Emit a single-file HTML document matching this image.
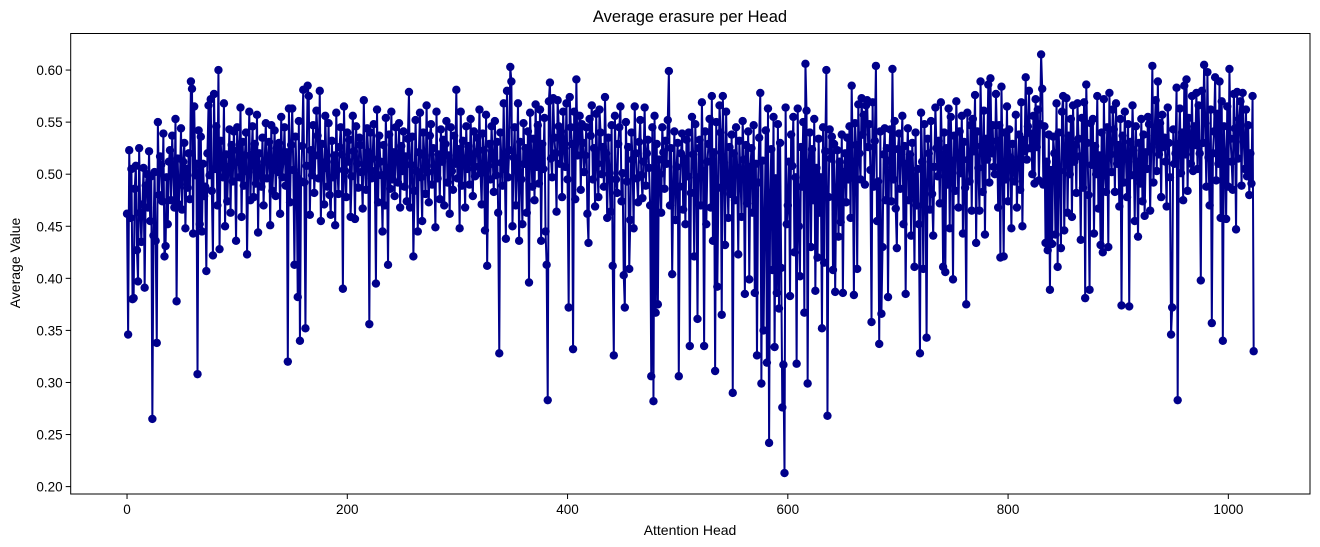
<!DOCTYPE html>
<html><head><meta charset="utf-8"><style>
body{margin:0;background:#fff;}
svg{display:block;font-family:"Liberation Sans","DejaVu Sans",sans-serif;}
</style></head><body>
<svg id="chart" width="1320" height="547" viewBox="0 0 1320 547" xmlns="http://www.w3.org/2000/svg">
<rect x="0" y="0" width="1320" height="547" fill="#fff"/>
<text x="690" y="22" text-anchor="middle" font-size="16.5">Average erasure per Head</text>
<text x="690" y="535" text-anchor="middle" font-size="14">Attention Head</text>
<text x="20" y="263" text-anchor="middle" font-size="14" transform="rotate(-90 20 263)">Average Value</text>
<g id="plot"></g>
<g id="axes"></g>
</svg>
<script>
const xTicks = [0,200,400,600,800,1000];
const yTicks = [0.20,0.25,0.30,0.35,0.40,0.45,0.50,0.55,0.60];
const yTickLabels = ["0.20","0.25","0.30","0.35","0.40","0.45","0.50","0.55","0.60"];
const values = [
.462,.346,.523,.458,.505,.380,.381,.486,.508,.427,.397,.525,.463,.435,.471,.506,.391,.489,.500,.468,.522,.455,.498,.265,.441,.502,.436,.338,.550,.480,.517,.509,
.474,.539,.421,.431,.497,.452,.512,.523,.475,.537,.503,.468,.553,.378,.515,.471,.490,.544,.466,.512,.530,.448,.505,.487,.520,.476,.589,.582,.443,.565,.499,.510,
.308,.542,.452,.536,.445,.510,.479,.488,.407,.520,.566,.499,.572,.484,.422,.577,.505,.546,.470,.600,.428,.532,.511,.497,.568,.450,.519,.474,.507,.543,.463,.528,
.493,.541,.511,.436,.545,.523,.497,.564,.459,.531,.489,.518,.540,.423,.502,.560,.475,.514,.546,.478,.529,.491,.557,.444,.520,.503,.488,.535,.470,.512,.549,.496,
.515,.531,.451,.547,.484,.510,.542,.479,.525,.502,.530,.462,.555,.497,.513,.545,.489,.521,.320,.563,.473,.528,.563,.504,.413,.536,.497,.382,.551,.340,.493,.527,
.581,.492,.352,.508,.585,.575,.461,.523,.499,.547,.482,.518,.561,.537,.496,.580,.455,.529,.505,.471,.556,.512,.488,.549,.480,.461,.532,.497,.518,.451,.559,.504,
.481,.526,.545,.519,.390,.565,.503,.478,.540,.512,.533,.459,.498,.556,.522,.457,.546,.510,.487,.535,.528,.502,.467,.571,.505,.485,.544,.521,.356,.540,.496,.515,
.548,.503,.395,.562,.473,.537,.512,.499,.445,.528,.470,.554,.506,.413,.538,.486,.560,.495,.521,.479,.545,.515,.492,.549,.468,.527,.503,.541,.488,.517,.474,.534,
.579,.468,.509,.536,.421,.484,.552,.503,.445,.521,.559,.497,.455,.540,.518,.481,.566,.502,.473,.537,.548,.490,.525,.508,.449,.560,.496,.519,.476,.543,.512,.533,
.470,.529,.551,.492,.518,.462,.545,.503,.485,.537,.510,.581,.496,.524,.448,.560,.489,.532,.515,.468,.546,.505,.527,.490,.553,.512,.479,.541,.498,.521,.535,.507,
.562,.501,.471,.539,.523,.446,.557,.412,.508,.529,.495,.546,.517,.483,.551,.499,.531,.463,.328,.540,.511,.489,.568,.505,.438,.580,.497,.523,.603,.589,.450,.516,
.545,.470,.503,.568,.436,.531,.495,.452,.549,.510,.525,.463,.541,.396,.559,.520,.488,.534,.475,.567,.507,.547,.491,.562,.436,.529,.505,.554,.445,.413,.283,.570,
.588,.515,.497,.573,.535,.520,.464,.571,.546,.510,.541,.478,.560,.525,.507,.568,.495,.372,.574,.545,.529,.332,.560,.476,.591,.518,.537,.556,.485,.548,.530,.502,
.518,.545,.462,.434,.553,.537,.566,.495,.525,.469,.558,.510,.478,.562,.540,.500,.526,.488,.574,.520,.458,.535,.501,.464,.547,.412,.326,.556,.495,.482,.529,.545,
.565,.474,.501,.403,.372,.550,.493,.526,.409,.456,.540,.514,.448,.565,.520,.496,.473,.531,.552,.499,.477,.512,.564,.489,.520,.533,.506,.470,.306,.545,.282,.556,
.367,.529,.375,.514,.500,.463,.545,.521,.486,.532,.510,.552,.599,.470,.525,.404,.490,.541,.456,.507,.530,.306,.488,.520,.539,.466,.515,.452,.533,.498,.540,.335,
.482,.555,.519,.421,.548,.497,.361,.525,.533,.470,.569,.503,.335,.541,.452,.512,.529,.553,.468,.575,.436,.521,.311,.550,.392,.487,.566,.540,.365,.575,.511,.432,
.560,.495,.458,.526,.481,.538,.290,.520,.475,.545,.506,.423,.532,.498,.459,.551,.514,.385,.528,.472,.541,.399,.507,.525,.463,.547,.386,.510,.326,.492,.535,.578,
.299,.513,.350,.460,.542,.319,.563,.242,.482,.524,.408,.555,.334,.496,.386,.548,.371,.530,.410,.276,.317,.213,.564,.452,.470,.512,.383,.538,.508,.555,.425,.497,
.318,.563,.450,.402,.526,.488,.550,.367,.606,.561,.299,.511,.540,.430,.524,.475,.553,.388,.506,.420,.534,.463,.497,.352,.545,.415,.522,.600,.268,.478,.543,.515,
.536,.408,.529,.387,.487,.523,.440,.512,.454,.538,.386,.502,.520,.473,.535,.495,.546,.458,.585,.512,.384,.549,.528,.409,.567,.520,.495,.573,.538,.557,.490,.566,
.571,.526,.548,.504,.358,.569,.488,.532,.604,.455,.493,.337,.541,.366,.430,.519,.544,.475,.525,.382,.513,.543,.474,.601,.495,.551,.467,.429,.524,.539,.486,.520,
.556,.452,.527,.385,.510,.544,.475,.519,.441,.530,.497,.411,.540,.470,.505,.452,.328,.559,.512,.409,.548,.492,.343,.534,.520,.466,.551,.481,.441,.507,.564,.525,
.498,.532,.472,.569,.519,.411,.540,.406,.525,.490,.563,.448,.555,.513,.399,.537,.484,.570,.520,.468,.541,.501,.556,.443,.531,.487,.375,.559,.514,.493,.547,.465,
.553,.522,.576,.434,.541,.506,.465,.589,.527,.483,.561,.442,.534,.514,.586,.492,.592,.520,.547,.507,.500,.577,.532,.468,.547,.420,.584,.512,.421,.540,.495,.565,
.474,.543,.516,.448,.529,.502,.493,.557,.468,.510,.538,.485,.569,.450,.533,.522,.593,.514,.546,.580,.525,.539,.500,.556,.491,.572,.526,.562,.494,.548,.615,.582,
.490,.546,.434,.512,.427,.538,.389,.504,.433,.536,.520,.442,.568,.411,.540,.503,.429,.560,.575,.446,.521,.573,.463,.537,.500,.553,.459,.566,.512,.528,.482,.568,
.534,.517,.437,.554,.487,.569,.381,.586,.530,.480,.389,.549,.509,.553,.443,.527,.500,.575,.467,.518,.432,.540,.425,.572,.501,.483,.545,.430,.578,.519,.502,.562,
.543,.483,.568,.510,.528,.469,.553,.374,.537,.492,.560,.515,.478,.548,.373,.531,.499,.566,.523,.455,.546,.512,.440,.530,.491,.553,.474,.538,.460,.521,.505,.555,
.548,.465,.526,.604,.492,.537,.571,.503,.589,.519,.549,.478,.557,.526,.535,.512,.469,.564,.530,.497,.346,.372,.543,.510,.520,.583,.283,.529,.563,.501,.540,.475,
.585,.519,.591,.484,.554,.536,.510,.575,.503,.546,.528,.578,.505,.566,.520,.398,.580,.530,.605,.549,.488,.598,.516,.470,.562,.357,.520,.541,.593,.494,.558,.510,
.589,.458,.570,.340,.546,.520,.457,.565,.488,.601,.534,.512,.485,.577,.544,.447,.579,.515,.553,.570,.489,.578,.531,.505,.562,.498,.547,.480,.520,.491,.575,.330
];
const NS = "http://www.w3.org/2000/svg";
const L = 70.7, R = 1310, T = 33.5, B = 494;
const n = values.length;
const vmin = Math.min(...values), vmax = Math.max(...values);
const xspan = (n - 1), xm = xspan * 0.05;
const ypad = (vmax - vmin) * 0.05;
const x0 = -xm, x1 = xspan + xm, y0 = vmin - ypad, y1 = vmax + ypad;
function xScale(v){ return L + (v - x0) / (x1 - x0) * (R - L); }
function yScale(v){ return B - (v - y0) / (y1 - y0) * (B - T); }
function mk(tag, attrs){ const e = document.createElementNS(NS, tag); for (const k in attrs) e.setAttribute(k, attrs[k]); return e; }
const plot = document.getElementById('plot');
const axes = document.getElementById('axes');
let d = '';
values.forEach((v,i)=>{ d += (i ? 'L' : 'M') + xScale(i).toFixed(2) + ' ' + yScale(v).toFixed(2); });
const line = mk('path', {d: d, fill: 'none', stroke: '#00008b', 'stroke-width': 2, 'stroke-linejoin': 'round'});


plot.appendChild(line);
values.forEach((v,i)=>{
  const c = mk('circle', {cx: xScale(i).toFixed(2), cy: yScale(v).toFixed(2), r: 4.2, fill: '#00008b'});
  
  
  plot.appendChild(c);
});
const frame = mk('rect', {x: L, y: T, width: R - L, height: B - T, fill: 'none', stroke: '#000', 'stroke-width': 1});


axes.appendChild(frame);
xTicks.forEach(t=>{
  const x = xScale(t);
  const tk = mk('line', {x1: x, x2: x, y1: B, y2: B + 5, stroke: '#000', 'stroke-width': 1});
  
  
  axes.appendChild(tk);
  const tx = mk('text', {x: x, y: B + 20, 'text-anchor': 'middle', 'font-size': 13.5});
  
  
  tx.textContent = String(t);
  axes.appendChild(tx);
});
yTicks.forEach((t,i)=>{
  const y = yScale(t);
  const tk = mk('line', {x1: L - 5, x2: L, y1: y, y2: y, stroke: '#000', 'stroke-width': 1});
  
  
  axes.appendChild(tk);
  const tx = mk('text', {x: L - 8, y: y + 5, 'text-anchor': 'end', 'font-size': 13.5});
  
  
  tx.textContent = yTickLabels[i];
  axes.appendChild(tx);
});
</script>
</body></html>
